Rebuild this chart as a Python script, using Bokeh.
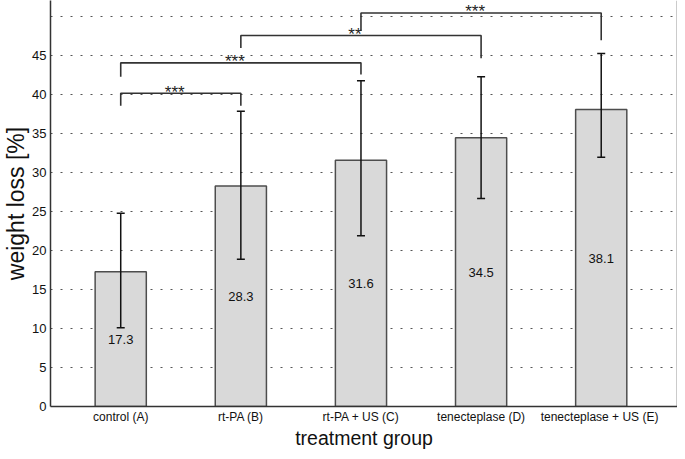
from bokeh.plotting import figure
from bokeh.models import ColumnDataSource, FixedTicker, Whisker, TeeHead, Range1d, Span
from bokeh.core.properties import value
from bokeh.embed import file_html
from bokeh.resources import INLINE

# ---- data ----
groups = ["control (A)", "rt-PA (B)", "rt-PA + US (C)", "tenecteplase (D)", "tenecteplase +  US (E)"]
means = [17.3, 28.3, 31.6, 34.5, 38.1]
err_lower = [10.1, 18.9, 21.9, 26.7, 32.0]
err_upper = [24.8, 37.9, 41.8, 42.3, 45.3]

# significance brackets (group index from / to)
br_from = [0, 0, 1, 2]
br_to = [1, 2, 3, 4]
br_level = [40.2, 44.1, 47.6, 50.5]
br_leg_from = [38.6, 42.3, 46.0, 48.2]
br_leg_to = [38.6, 42.6, 44.7, 47.0]
br_stars = ["***", "***", "**", "***"]

y_ticks = [0, 5, 10, 15, 20, 25, 30, 35, 40, 45]
grid_ticks = [5, 10, 15, 20, 25, 30, 35, 40, 45, 50]

FONT = "Liberation Sans"

xpos = [i + 1 for i in range(len(groups))]

p = figure(width=677, height=451, output_backend="svg", toolbar_location=None,
           x_range=Range1d(0.4154, 5.635), y_range=Range1d(0, 52.1),
           min_border_top=0, min_border_right=0, min_border_left=0, min_border_bottom=0)
p.outline_line_color = None

src = ColumnDataSource(dict(x=xpos, top=means, lower=err_lower, upper=err_upper,
                            mid=[m / 2 for m in means], lab=[f"{m:.1f}" for m in means]))

p.vbar(x="x", top="top", bottom=0, width=0.426, source=src,
       fill_color="#d9d9d9", line_color="#4d4d4d", line_width=1.5)

w = Whisker(base="x", upper="upper", lower="lower", source=src, level="annotation",
            line_color="#111111", line_width=1.5,
            upper_head=TeeHead(size=8, line_color="#111111", line_width=1.5),
            lower_head=TeeHead(size=8, line_color="#111111", line_width=1.5))
p.add_layout(w)

p.text(x="x", y="mid", text="lab", source=src, text_align="center", text_baseline="middle",
       text_font=value(FONT), text_font_size="13px", text_color="#111111")

# brackets
bxs, bys, sx, sy = [], [], [], []
for f, t, lv, lf, lt in zip(br_from, br_to, br_level, br_leg_from, br_leg_to):
    x1, x2 = xpos[f], xpos[t]
    bxs.append([x1, x1, x2, x2])
    bys.append([lf, lv, lv, lt])
    sx.append((x1 + x2) / 2)
    sy.append(lv)
p.multi_line(xs=bxs, ys=bys, line_color="#333333", line_width=1.6)
p.text(x=sx, y=sy, text=br_stars, text_align="center", text_baseline="alphabetic",
       x_offset=-6, y_offset=-1, text_font=value(FONT), text_font_size="17px", text_color="#222222")

# axes
p.xaxis.ticker = FixedTicker(ticks=xpos)
p.xaxis.major_label_overrides = {x: g for x, g in zip(xpos, groups)}
p.xaxis.axis_label = "treatment group"
p.yaxis.ticker = FixedTicker(ticks=y_ticks)
p.yaxis.axis_label = "weight loss [%]"
for ax in (p.xaxis, p.yaxis):
    ax.axis_label_text_font = FONT
    ax.axis_label_text_font_style = "normal"
    ax.axis_label_text_color = "#111111"
    ax.major_label_text_font = FONT
    ax.major_label_text_color = "#111111"
    ax.major_tick_line_color = None
    ax.minor_tick_line_color = None
    ax.major_tick_out = 0
    ax.major_tick_in = 0
    ax.axis_line_color = "#333333"
    ax.axis_line_width = 1.5
p.xaxis.axis_label_text_font_size = "19.5px"
p.yaxis.axis_label_text_font_size = "23px"
p.xaxis.major_label_text_font_size = "12px"
p.yaxis.major_label_text_font_size = "13px"
p.xaxis.major_label_standoff = 3
p.yaxis.major_label_standoff = 4
p.xaxis.axis_label_standoff = 0
p.yaxis.axis_label_standoff = 0

# right frame line
p.add_layout(Span(location=p.x_range.end, dimension="height",
                  line_color="#333333", line_width=1.5))

p.xgrid.visible = False
p.ygrid.ticker = FixedTicker(ticks=grid_ticks)
p.ygrid.grid_line_color = "#555555"
p.ygrid.grid_line_dash = "2 8"
p.ygrid.grid_line_width = 1

open("out.html", "w").write(file_html(p, INLINE))
